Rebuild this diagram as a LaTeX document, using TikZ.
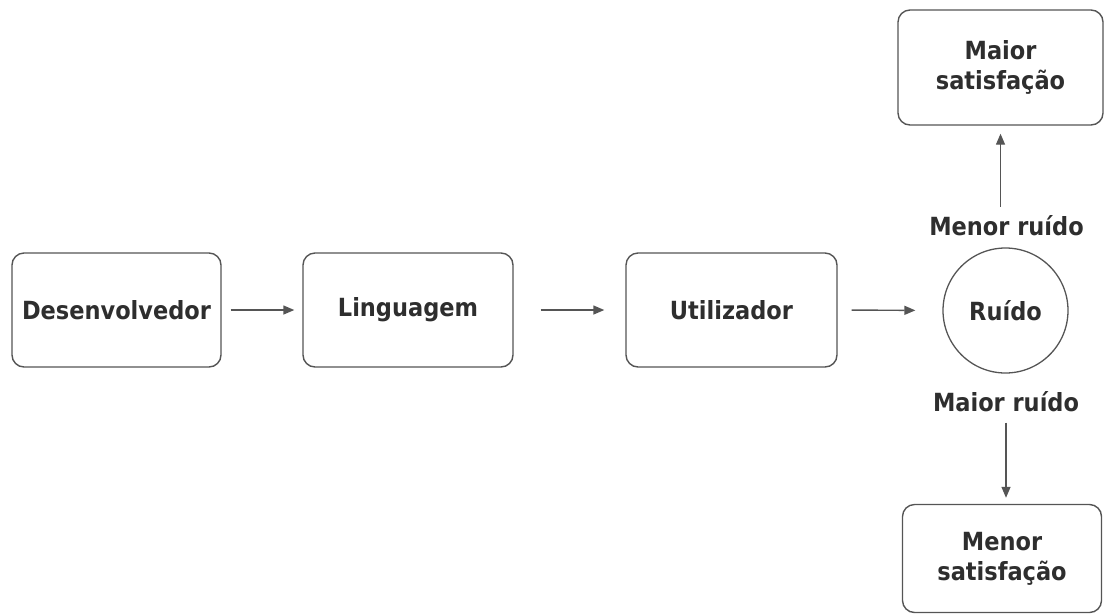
\documentclass[tikz,border=0pt]{standalone}
\usepackage{fontspec}
\setmainfont{DejaVu Sans Condensed}
\usetikzlibrary{arrows.meta}
\definecolor{edge}{HTML}{555555}
\definecolor{ink}{HTML}{2E2E2E}
\begin{document}
\begin{tikzpicture}[x=1pt,y=-1pt,
  every node/.style={font=\fontsize{25}{30}\selectfont\bfseries, text=ink},
  card/.style={draw=edge, line width=1.4pt, rounded corners=12pt, inner sep=0pt, align=center},
  hub/.style={draw=edge, line width=1.3pt, circle, inner sep=0pt, minimum size=125pt},
  tag/.style={inner sep=0pt, text height=18pt, text depth=0pt},
  flow/.style={draw=edge, line width=1.4pt, -{Triangle[length=11pt,width=9pt]}}]
  \useasboundingbox (0,0) rectangle (1105,614);

  % main chain
  \node[card, minimum width=209pt, minimum height=114pt] (dev) at (116.5,310) {Desenvolvedor};
  \node[card, minimum width=210pt, minimum height=114pt] (lin) at (408,310) {Linguagem};
  \node[card, minimum width=211pt, minimum height=114pt] (uti) at (731.5,310) {Utilizador};
  \node[hub] (rui) at (1005.5,310.5) {Ruído};

  % outcomes
  \node[card, minimum width=205pt, minimum height=115pt] (top) at (1000.5,67.5) {Maior\\satisfação};
  \node[card, minimum width=199pt, minimum height=108pt] (bot) at (1002,558.5) {Menor\\satisfação};

  % branch labels
  \node[tag] (less) at (1006.5,226) {Menor ruído};
  \node[tag] (more) at (1006,402.5) {Maior ruído};

  % connectors
  \draw[flow, shorten <=9pt, shorten >=8pt] (dev.east) -- (lin.west);
  \draw[flow, shorten <=27pt, shorten >=21pt] (lin.east) -- (uti.west);
  \draw[flow, shorten <=14pt, shorten >=27pt] (uti.east) -- (rui.west);
  \draw[flow, shorten <=10pt, shorten >=8pt] (top.south |- less.north) -- (top.south);
  \draw[flow, shorten <=11pt, shorten >=6pt] (more.south) -- (more.south |- bot.north);
\end{tikzpicture}
\end{document}
